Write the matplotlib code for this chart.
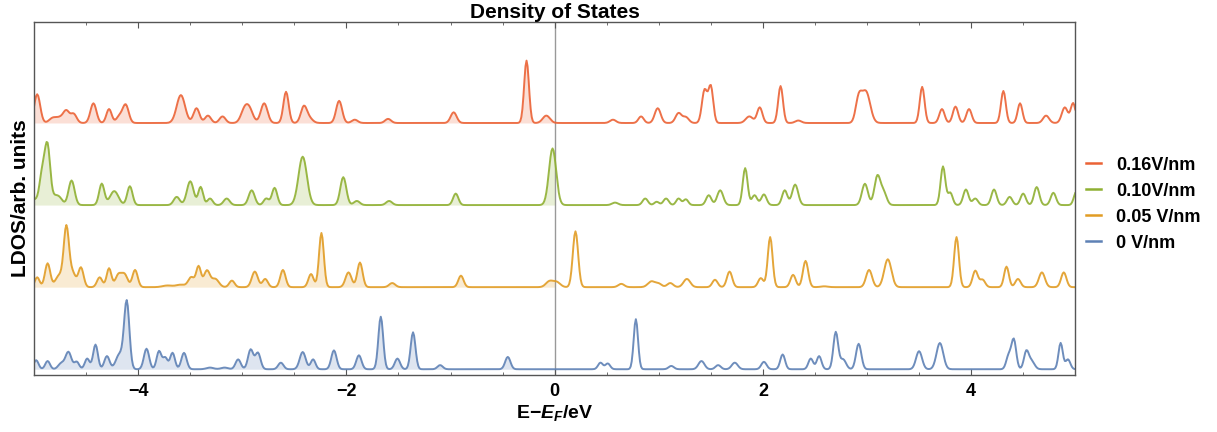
# -*- coding: utf-8 -*-
"""Stacked LDOS curves for four field strengths."""

#%% Imports
import numpy as np
import matplotlib
matplotlib.use('Agg')
import matplotlib.pyplot as plt
from matplotlib.lines import Line2D

#%% Data: peaks as (energy eV, height, width eV)
labels = ['0.16V/nm', '0.10V/nm', '0.05 V/nm', '0 V/nm']
colors = ['#EB6235', '#8FB032', '#E19C24', '#5E81B5']
offsets = [3, 2, 1, 0]

peaks_016 = [
    (-4.97, 0.35, 0.025), (-4.82, 0.06, 0.03), (-4.75, 0.06, 0.03), (-4.69, 0.14, 0.025),
    (-4.62, 0.11, 0.025), (-4.43, 0.24, 0.025), (-4.28, 0.17, 0.022), (-4.18, 0.08, 0.025),
    (-4.12, 0.22, 0.025), (-3.59, 0.34, 0.035), (-3.44, 0.18, 0.025), (-3.33, 0.09, 0.025),
    (-3.19, 0.08, 0.025), (-2.98, 0.15, 0.03), (-2.93, 0.15, 0.03), (-2.79, 0.24, 0.028),
    (-2.58, 0.38, 0.022), (-2.41, 0.19, 0.025), (-2.36, 0.06, 0.03), (-2.07, 0.27, 0.025),
    (-1.92, 0.04, 0.025), (-1.60, 0.05, 0.025), (-0.97, 0.13, 0.025), (-0.27, 0.76, 0.02),
    (-0.08, 0.09, 0.03), (0.56, 0.04, 0.025), (0.83, 0.08, 0.022), (0.99, 0.18, 0.025),
    (1.19, 0.12, 0.025), (1.26, 0.07, 0.025), (1.44, 0.40, 0.022), (1.50, 0.44, 0.02),
    (1.87, 0.08, 0.03), (1.97, 0.19, 0.022), (2.17, 0.45, 0.02), (2.34, 0.03, 0.025),
    (2.92, 0.28, 0.025), (2.99, 0.38, 0.035), (3.53, 0.44, 0.02), (3.72, 0.17, 0.022),
    (3.85, 0.20, 0.022), (3.98, 0.17, 0.022), (4.31, 0.39, 0.02), (4.47, 0.24, 0.02),
    (4.72, 0.09, 0.025), (4.90, 0.19, 0.025), (4.98, 0.24, 0.02),
]

peaks_010 = [
    (-5.00, 0.06, 0.02), (-4.92, 0.40, 0.025), (-4.87, 0.66, 0.022), (-4.80, 0.10, 0.03),
    (-4.75, 0.06, 0.025), (-4.64, 0.30, 0.025), (-4.35, 0.26, 0.022), (-4.23, 0.17, 0.035),
    (-4.08, 0.23, 0.022), (-3.63, 0.10, 0.025), (-3.50, 0.29, 0.028), (-3.40, 0.22, 0.02),
    (-3.31, 0.08, 0.022), (-3.15, 0.08, 0.025), (-2.91, 0.18, 0.025), (-2.77, 0.08, 0.022),
    (-2.69, 0.21, 0.022), (-2.42, 0.59, 0.035), (-2.03, 0.34, 0.025), (-1.90, 0.05, 0.025),
    (-1.59, 0.05, 0.025), (-0.95, 0.14, 0.022), (-0.02, 0.69, 0.03), (0.58, 0.03, 0.025),
    (0.87, 0.08, 0.022), (0.98, 0.04, 0.02), (1.07, 0.08, 0.022), (1.19, 0.08, 0.02),
    (1.26, 0.07, 0.02), (1.48, 0.12, 0.022), (1.59, 0.18, 0.025), (1.83, 0.45, 0.02),
    (1.92, 0.12, 0.022), (2.01, 0.13, 0.022), (2.21, 0.18, 0.022), (2.31, 0.25, 0.025),
    (2.98, 0.26, 0.025), (3.10, 0.35, 0.025), (3.16, 0.15, 0.025), (3.73, 0.47, 0.02),
    (3.80, 0.15, 0.02), (3.95, 0.19, 0.022), (4.04, 0.08, 0.022), (4.22, 0.19, 0.022),
    (4.37, 0.10, 0.022), (4.50, 0.14, 0.022), (4.63, 0.22, 0.022), (4.79, 0.15, 0.022),
    (5.01, 0.16, 0.02),
]

peaks_005 = [
    (-4.97, 0.12, 0.02), (-4.87, 0.29, 0.022), (-4.76, 0.14, 0.03), (-4.69, 0.72, 0.022),
    (-4.63, 0.17, 0.025), (-4.55, 0.24, 0.022), (-4.37, 0.12, 0.022), (-4.28, 0.23, 0.02),
    (-4.19, 0.15, 0.025), (-4.13, 0.15, 0.025), (-4.03, 0.21, 0.022), (-3.72, 0.02, 0.04),
    (-3.59, 0.03, 0.04), (-3.49, 0.12, 0.025), (-3.42, 0.25, 0.02), (-3.34, 0.20, 0.025),
    (-3.26, 0.10, 0.03), (-3.10, 0.08, 0.022), (-2.88, 0.19, 0.025), (-2.78, 0.10, 0.022),
    (-2.61, 0.21, 0.022), (-2.34, 0.16, 0.022), (-2.24, 0.66, 0.02), (-1.98, 0.18, 0.025),
    (-1.87, 0.30, 0.022), (-1.56, 0.05, 0.025), (-0.90, 0.14, 0.022), (-0.05, 0.07, 0.03),
    (0.02, 0.06, 0.03), (0.20, 0.68, 0.022), (0.64, 0.04, 0.025), (0.93, 0.07, 0.03),
    (1.00, 0.04, 0.025), (1.11, 0.05, 0.025), (1.27, 0.10, 0.028), (1.54, 0.09, 0.022),
    (1.68, 0.19, 0.022), (1.98, 0.11, 0.022), (2.07, 0.61, 0.02), (2.29, 0.15, 0.022),
    (2.41, 0.32, 0.022), (2.59, 0.01, 0.03), (3.02, 0.21, 0.025), (3.20, 0.34, 0.03),
    (3.86, 0.61, 0.02), (4.04, 0.20, 0.022), (4.11, 0.09, 0.022), (4.34, 0.25, 0.02),
    (4.45, 0.10, 0.022), (4.68, 0.18, 0.025), (4.89, 0.18, 0.022),
]

peaks_000 = [
    (-4.98, 0.11, 0.02), (-4.87, 0.10, 0.02), (-4.74, 0.07, 0.025), (-4.67, 0.21, 0.025),
    (-4.59, 0.09, 0.02), (-4.49, 0.13, 0.02), (-4.41, 0.30, 0.02), (-4.30, 0.16, 0.022),
    (-4.18, 0.18, 0.03), (-4.11, 0.82, 0.022), (-3.92, 0.25, 0.022), (-3.80, 0.22, 0.02),
    (-3.74, 0.14, 0.02), (-3.67, 0.20, 0.02), (-3.56, 0.20, 0.022), (-3.31, 0.02, 0.03),
    (-3.17, 0.02, 0.03), (-3.04, 0.12, 0.022), (-2.92, 0.24, 0.022), (-2.85, 0.20, 0.022),
    (-2.63, 0.08, 0.022), (-2.42, 0.21, 0.025), (-2.32, 0.12, 0.02), (-2.12, 0.23, 0.022),
    (-1.88, 0.17, 0.022), (-1.67, 0.64, 0.02), (-1.51, 0.13, 0.022), (-1.36, 0.45, 0.02),
    (-1.10, 0.05, 0.022), (-0.45, 0.15, 0.022), (0.44, 0.08, 0.02), (0.51, 0.07, 0.02),
    (0.78, 0.61, 0.018), (1.12, 0.04, 0.022), (1.41, 0.10, 0.025), (1.57, 0.05, 0.022),
    (1.73, 0.08, 0.025), (2.01, 0.09, 0.022), (2.19, 0.18, 0.02), (2.46, 0.13, 0.02),
    (2.54, 0.16, 0.02), (2.70, 0.45, 0.02), (2.77, 0.12, 0.025), (2.92, 0.31, 0.022),
    (3.50, 0.22, 0.025), (3.70, 0.32, 0.028), (4.36, 0.16, 0.02), (4.41, 0.36, 0.02),
    (4.53, 0.21, 0.02), (4.58, 0.10, 0.025), (4.86, 0.32, 0.018), (4.93, 0.12, 0.02),
]

all_peaks = [peaks_016, peaks_010, peaks_005, peaks_000]

#%% Build curves
energy = np.arange(-5.0, 5.0001, 0.01)

def ldos(peaks, e, broaden=1.15):
    y = np.zeros_like(e)
    for (c, h, w) in peaks:
        y += h * np.exp(-0.5 * ((e - c) / (w * broaden)) ** 2)
    return y

#%% Plot
plt.rcParams['font.family'] = ['Liberation Sans', 'DejaVu Sans']
plt.rcParams['font.weight'] = 'bold'
plt.rcParams['mathtext.fontset'] = 'custom'
plt.rcParams['mathtext.rm'] = 'Liberation Sans:bold'
plt.rcParams['mathtext.it'] = 'Liberation Sans:bold:italic'

fig = plt.figure(figsize=(12.17, 4.32), dpi=100)
ax = fig.add_axes([0.028, 0.132, 0.8555, 0.817])

neg = energy <= 0
for (peaks, off, color) in zip(all_peaks, offsets, colors):
    y = ldos(peaks, energy) + off
    ax.fill_between(energy[neg], off, y[neg], color=color, alpha=0.2, linewidth=0)
    ax.plot(energy, y, color=color, linewidth=1.4, alpha=0.9)

ax.axvline(0, color='#999999', linewidth=1.0, zorder=0)

ax.set_xlim(-5, 5)
ax.set_ylim(-0.07, 4.23)
ax.set_xticks([-4, -2, 0, 2, 4])
ax.set_xticklabels(['\u22124', '\u22122', '0', '2', '4'], fontsize=13, fontweight='bold')
ax.set_xticks(np.arange(-5, 5.01, 0.5), minor=True)
ax.tick_params(axis='x', which='major', direction='in', length=4, color='#555555', pad=6,
               top=True)
ax.tick_params(axis='x', which='minor', direction='in', length=2, color='#555555', top=True)
ax.set_yticks([])
for spine in ax.spines.values():
    spine.set_color('#555555')
    spine.set_linewidth(1.0)

ax.set_title('Density of States', fontsize=15, fontweight='bold', pad=3)
ax.set_xlabel(r'E$-$$\mathit{E}_{F}$/eV', fontsize=14, fontweight='bold', labelpad=2)
ax.set_ylabel('LDOS/arb. units', fontsize=15, fontweight='bold', labelpad=3)

handles = [Line2D([], [], color=c, linewidth=1.8) for c in colors]
fig.legend(handles, labels, loc='upper left', bbox_to_anchor=(0.879, 0.675),
           frameon=False, handlelength=0.85, handletextpad=0.8,
           labelspacing=0.5, prop={'weight': 'bold', 'size': 13})

fig.savefig('out.png', dpi=100)
